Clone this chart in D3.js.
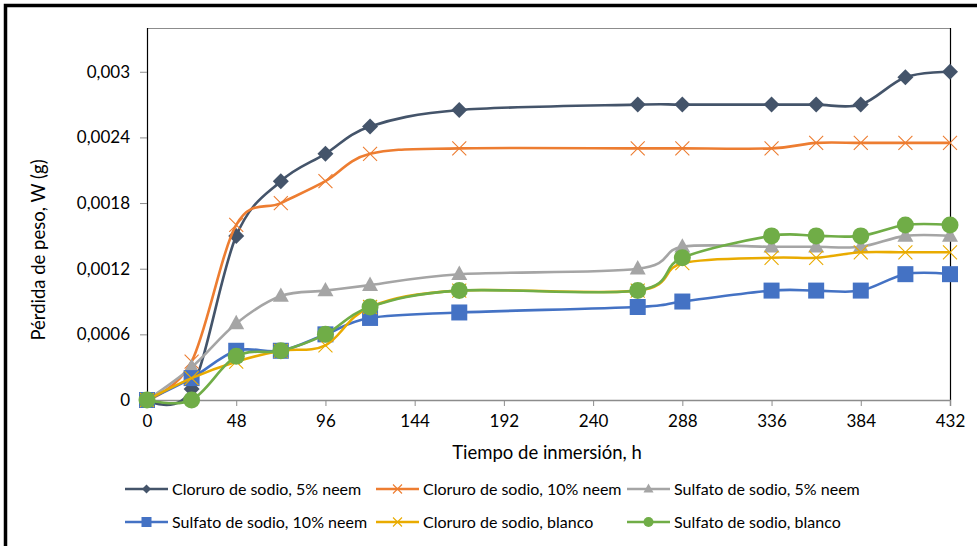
<!DOCTYPE html>
<html>
<head>
<meta charset="utf-8">
<script src="https://cdn.jsdelivr.net/npm/d3@7"></script>
<style>
  html, body { margin: 0; padding: 0; background: #fff; }
  svg { display: block; font-family: Lato, "Open Sans", sans-serif; }
</style>
</head>
<body>
<svg id="chart" width="977" height="546"></svg>
<script>
// ---- data ----
const hours = [0, 24, 48, 72, 96, 120, 168, 264, 288, 336, 360, 384, 408, 432];
const seriesNames = [
  "Cloruro de sodio, 5% neem",
  "Cloruro de sodio, 10% neem",
  "Sulfato de sodio, 5% neem",
  "Sulfato de sodio, 10% neem",
  "Cloruro de sodio, blanco",
  "Sulfato de sodio, blanco"
];
const cloruro5  = [0, 0.0001, 0.0015, 0.002, 0.00225, 0.0025, 0.00265, 0.0027, 0.0027, 0.0027, 0.0027, 0.0027, 0.00295, 0.003];
const cloruro10 = [0, 0.00035, 0.0016, 0.0018, 0.002, 0.00225, 0.0023, 0.0023, 0.0023, 0.0023, 0.00235, 0.00235, 0.00235, 0.00235];
const sulfato5  = [0, 0.0003, 0.0007, 0.00095, 0.001, 0.00105, 0.00115, 0.0012, 0.0014, 0.0014, 0.0014, 0.0014, 0.0015, 0.0015];
const sulfato10 = [0, 0.0002, 0.00045, 0.00045, 0.0006, 0.00075, 0.0008, 0.00085, 0.0009, 0.001, 0.001, 0.001, 0.00115, 0.00115];
const cloruroBl = [0, 0.0002, 0.00035, 0.00045, 0.0005, 0.00085, 0.001, 0.001, 0.00125, 0.0013, 0.0013, 0.00135, 0.00135, 0.00135];
const sulfatoBl = [0, 0, 0.0004, 0.00045, 0.0006, 0.00085, 0.001, 0.001, 0.0013, 0.0015, 0.0015, 0.0015, 0.0016, 0.0016];
const xTicks = [0, 48, 96, 144, 192, 240, 288, 336, 384, 432];
const yTicks = [0, 0.0006, 0.0012, 0.0018, 0.0024, 0.003];
const yTickLabels = ["0", "0,0006", "0,0012", "0,0018", "0,0024", "0,003"];
const xTitle = "Tiempo de inmersión, h";
const yTitle = "Pérdida de peso, W (g)";

const seriesValues = [cloruro5, cloruro10, sulfato5, sulfato10, cloruroBl, sulfatoBl];
const seriesColors = ["#44546A", "#ED7D31", "#A5A5A5", "#4472C4", "#E9AB00", "#70AD47"];
const seriesMarkers = ["diamond", "x", "triangle", "square", "x", "circle"];

// ---- layout ----
const svg = d3.select("#chart");
const L = 147, R = 950, T = 28, B = 400;
const x = d3.scaleLinear().domain([0, 432]).range([L, R]);
const y = d3.scaleLinear().domain([0, 0.0034]).range([B, T]);

// outer frame
svg.append("rect").attr("x", 5.5).attr("y", 5.5).attr("width", 1000).attr("height", 1000)
  .attr("fill", "none").attr("stroke", "#000").attr("stroke-width", 3.5);

// plot frame: top gray, right black
svg.append("line").attr("x1", L).attr("x2", R).attr("y1", T + 0.5).attr("y2", T + 0.5)
  .attr("stroke", "#8c8c8c").attr("stroke-width", 1.2);
svg.append("line").attr("x1", R + 0.5).attr("x2", R + 0.5).attr("y1", T).attr("y2", B)
  .attr("stroke", "#000").attr("stroke-width", 1.2);

// x axis
const xAxis = svg.append("g").attr("transform", `translate(0,${B})`)
  .call(d3.axisBottom(x).tickValues(xTicks).tickSize(6).tickPadding(9).tickFormat(d3.format("d")));
xAxis.select(".domain").attr("stroke", "#8c8c8c").attr("stroke-width", 1.5);
xAxis.selectAll(".tick line").attr("stroke", "#8c8c8c");
xAxis.selectAll("text").attr("font-size", 17).attr("fill", "#000").attr("font-family", "Lato, sans-serif");

// y axis
const yAxis = svg.append("g").attr("transform", `translate(${L},0)`)
  .call(d3.axisLeft(y).tickValues(yTicks).tickSize(7).tickPadding(10)
    .tickFormat((d, i) => yTickLabels[i]));
yAxis.select(".domain").attr("stroke", "#000").attr("stroke-width", 1.2).attr("d", `M0.5,${B}V${T}`);
yAxis.selectAll(".tick line").attr("stroke", "#8c8c8c");
yAxis.selectAll("text").attr("font-size", 17).attr("fill", "#000").attr("font-family", "Lato, sans-serif");

// titles
svg.append("text").attr("x", 547).attr("y", 459).attr("text-anchor", "middle")
  .attr("font-size", 18.5).attr("fill", "#000").text(xTitle);
svg.append("text").attr("transform", "translate(45,250) rotate(-90)").attr("text-anchor", "middle")
  .attr("font-size", 18.5).attr("fill", "#000").text(yTitle);

// marker drawing
function drawMarker(g, type, color, size) {
  const s = size;
  if (type === "diamond") {
    g.append("path").attr("d", `M0,${-s/2}L${s/2},0L0,${s/2}L${-s/2},0Z`).attr("fill", color);
  } else if (type === "square") {
    g.append("rect").attr("x", -s/2).attr("y", -s/2).attr("width", s).attr("height", s).attr("fill", color);
  } else if (type === "triangle") {
    const h = s * 0.9;
    g.append("path").attr("d", `M0,${-h*0.6}L${s/2},${h*0.4}L${-s/2},${h*0.4}Z`).attr("fill", color);
  } else if (type === "circle") {
    g.append("circle").attr("r", s/2).attr("fill", color);
  } else if (type === "x") {
    const a = s / 2;
    g.append("path").attr("d", `M${-a},${-a}L${a},${a}M${-a},${a}L${a},${-a}`)
      .attr("stroke", color).attr("stroke-width", 1.1).attr("fill", "none");
  }
}

const line = d3.line().x(d => x(d[0])).y(d => y(d[1])).curve(d3.curveCardinal.tension(0));
const markerSizes = { diamond: 16, square: 16, triangle: 16, circle: 17, x: 14 };

seriesValues.forEach((vals, i) => {
  const pts = hours.map((h, j) => [h, vals[j]]);
  const g = svg.append("g");
  g.append("path").datum(pts).attr("d", line).attr("fill", "none")
    .attr("stroke", seriesColors[i]).attr("stroke-width", 2.6);
  pts.forEach(p => {
    const mg = g.append("g").attr("transform", `translate(${x(p[0])},${y(p[1])})`);
    drawMarker(mg, seriesMarkers[i], seriesColors[i], markerSizes[seriesMarkers[i]]);
  });
});

// legend
const legCols = [125, 376, 627];
const legRows = [489, 522];
const legendMarkerSizes = { diamond: 9, square: 10, triangle: 10, circle: 10, x: 9 };
seriesNames.forEach((name, i) => {
  const lx = legCols[i % 3], ly = legRows[Math.floor(i / 3)];
  const g = svg.append("g");
  g.append("line").attr("x1", lx).attr("x2", lx + 43).attr("y1", ly).attr("y2", ly)
    .attr("stroke", seriesColors[i]).attr("stroke-width", 2.6);
  const mg = g.append("g").attr("transform", `translate(${lx + 21.5},${ly})`);
  drawMarker(mg, seriesMarkers[i], seriesColors[i], legendMarkerSizes[seriesMarkers[i]]);
  g.append("text").attr("x", lx + 47).attr("y", ly + 5.5).attr("font-size", 16)
    .attr("fill", "#000").text(name);
});
</script>
</body>
</html>
